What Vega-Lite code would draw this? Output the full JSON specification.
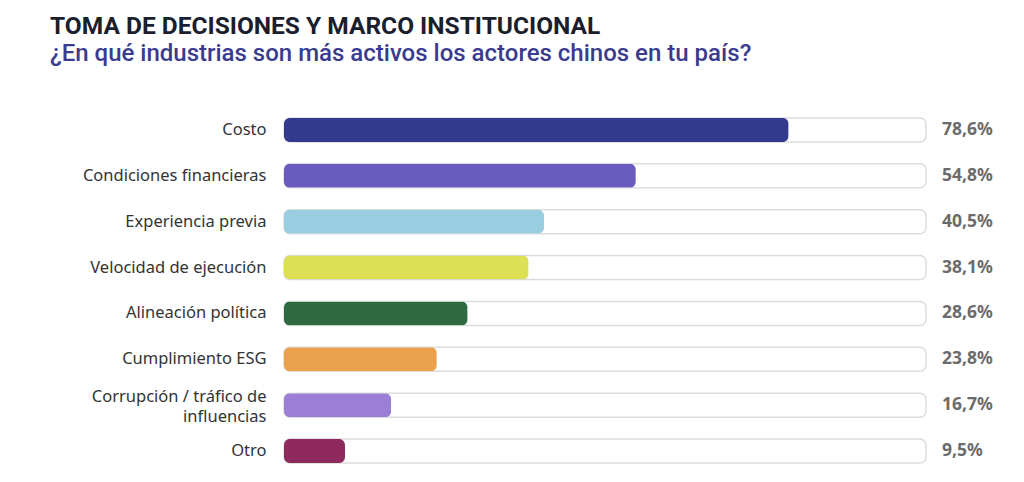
{
  "$schema": "https://vega.github.io/schema/vega-lite/v6.json",
  "description": "Horizontal bar chart with rounded bars on light tracks: which industries Chinese actors are most active in.",
  "width": 642,
  "height": 367,
  "autosize": "none",
  "padding": {"left": 284, "top": 107, "right": 98, "bottom": 8},
  "background": "white",
  "title": {
    "text": "TOMA DE DECISIONES Y MARCO INSTITUCIONAL",
    "subtitle": "¿En qué industrias son más activos los actores chinos en tu país?",
    "anchor": "start",
    "frame": "group",
    "dx": -234,
    "offset": 40,
    "font": "Roboto",
    "fontSize": 24.5,
    "fontWeight": "bold",
    "color": "#1b1e2c",
    "subtitleFont": "Roboto",
    "subtitleFontSize": 24,
    "subtitleFontWeight": 500,
    "subtitleColor": "#3a3b8f",
    "subtitlePadding": 3
  },
  "data": {
    "values": [
      {"factor": "Costo", "share": 0.786},
      {"factor": "Condiciones financieras", "share": 0.548},
      {"factor": "Experiencia previa", "share": 0.405},
      {"factor": "Velocidad de ejecución", "share": 0.381},
      {"factor": "Alineación política", "share": 0.286},
      {"factor": "Cumplimiento ESG", "share": 0.238},
      {"factor": "Corrupción / tráfico de influencias", "share": 0.167},
      {"factor": "Otro", "share": 0.095}
    ]
  },
  "encoding": {
    "y": {
      "field": "factor",
      "type": "nominal",
      "sort": null,
      "scale": {"paddingInner": 0, "paddingOuter": 0},
      "axis": {
        "title": null,
        "domain": false,
        "ticks": false,
        "labelPadding": 18,
        "labelFont": "Noto Sans",
        "labelFontSize": 16.5,
        "labelColor": "#333333",
        "labelLineHeight": 20,
        "labelLimit": 260,
        "labelBaseline": {
          "condition": {"test": "datum.value == 'Corrupción / tráfico de influencias'", "value": "bottom"},
          "value": "middle"
        },
        "labelExpr": "datum.label == 'Corrupción / tráfico de influencias' ? ['Corrupción / tráfico de', 'influencias'] : datum.label"
      }
    }
  },
  "layer": [
    {
      "mark": {"type": "bar", "height": 24, "cornerRadius": 6, "fill": "white", "stroke": "#dcdcdc", "strokeWidth": 1.5},
      "encoding": {
        "x": {"datum": 1, "type": "quantitative", "scale": {"domain": [0, 1]}, "axis": null}
      }
    },
    {
      "mark": {"type": "bar", "height": 24, "cornerRadius": 6},
      "encoding": {
        "x": {"field": "share", "type": "quantitative"},
        "color": {
          "field": "factor",
          "type": "nominal",
          "legend": null,
          "scale": {
            "domain": ["Costo", "Condiciones financieras", "Experiencia previa", "Velocidad de ejecución", "Alineación política", "Cumplimiento ESG", "Corrupción / tráfico de influencias", "Otro"],
            "range": ["#323a8e", "#6a5bbf", "#99cde0", "#dde053", "#2e6a40", "#eba14c", "#9b7fd6", "#8e2a5e"]
          }
        }
      }
    },
    {
      "mark": {"type": "text", "align": "left", "dx": 16, "font": "Noto Sans", "fontSize": 17.5, "fontWeight": "bold", "color": "#6b6b6b"},
      "encoding": {
        "x": {"datum": 1, "type": "quantitative"},
        "text": {"field": "share", "type": "quantitative", "format": ".1%"}
      }
    }
  ],
  "config": {
    "view": {"stroke": null},
    "locale": {"number": {"decimal": ",", "thousands": ".", "grouping": [3], "currency": ["", " €"]}}
  }
}
